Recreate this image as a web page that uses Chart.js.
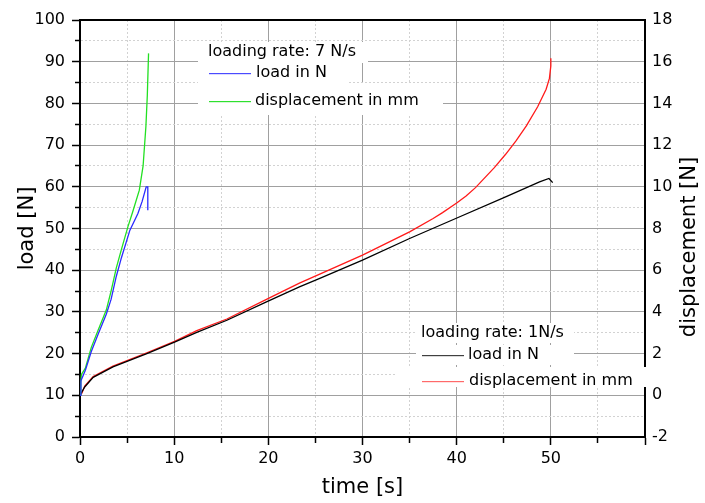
<!DOCTYPE html>
<html>
<head>
<meta charset="utf-8">
<script src="https://cdn.jsdelivr.net/npm/chart.js@4"></script>
<style>
  html, body { margin: 0; padding: 0; background: #fff; }
  #wrap { width: 705px; height: 503px; }
</style>
</head>
<body>
<div id="wrap"><canvas id="loadChart" width="705" height="503"></canvas></div>
<script>
// loading rate 7 N/s
const fastLoadTime = [0, 0.1, 0.57, 1.2, 1.9, 2.8, 3.3, 3.85, 4.4, 5.3, 6.15, 6.6, 7.03, 7.2, 7.2];
const fastLoad     = [10, 13.5, 16, 20.5, 24.5, 29.5, 33, 38.5, 43, 49.6, 53.6, 56.5, 60, 60, 54.4];
const fastDispTime = [0, 0.08, 0.15, 0.57, 1.2, 1.9, 2.8, 3.3, 3.85, 4.4, 5.1, 5.6, 6.3, 6.7, 7.0, 7.15, 7.28];
const fastDisp     = [0, 0.6, 1.0, 1.3, 2.3, 3.1, 4.1, 5.0, 6.1, 7.0, 8.1, 8.8, 9.84, 11.0, 12.9, 14.4, 16.4];

// loading rate 1 N/s
const slowLoadTime = [0, 0.5, 1.4, 3.5, 7.1, 10.1, 12.4, 15.6, 19.8, 23.3, 25.4, 30, 35, 39.9, 45.2, 48.8, 49.8, 50.2];
const slowLoad     = [10, 12, 14.3, 16.8, 20, 22.8, 25.1, 28, 32.4, 36, 38, 42.4, 47.6, 52.4, 57.6, 61.2, 62, 61];
const slowDispTime = [0, 0.2, 0.5, 1.4, 3.5, 7.1, 10.1, 12.4, 15.6, 19.8, 23.3, 25.4, 30, 35, 37.5, 38.5, 40, 41,
                      42, 44, 45.2, 46.3, 47.4, 48.6, 49.5, 49.85, 50.0, 50.0];
const slowDisp     = [0, 0.1, 0.44, 0.9, 1.4, 2.04, 2.6, 3.1, 3.66, 4.6, 5.38, 5.8, 6.72, 7.84, 8.48, 8.76, 9.22, 9.56,
                      9.96, 10.92, 11.56, 12.2, 12.92, 13.84, 14.68, 15.2, 15.8, 16.16];

const toPoints = (xs, ys) => xs.map((x, i) => ({ x: x, y: ys[i] }));

Chart.defaults.font.family = "'DejaVu Sans', sans-serif";
Chart.defaults.font.size = 16;
Chart.defaults.color = '#000';

const isMajor = (ctx, step) => ctx.tick && Math.round(ctx.tick.value) % step === 0;

function gridColor(lo, hi) {
    return ctx => {
        if (!ctx.tick) return '#a0a0a0';
        const v = ctx.tick.value;
        if (v === lo || v === hi) return 'rgba(0,0,0,0)';
        return v % 10 === 0 ? '#a0a0a0' : '#d2d2d2';
    };
}

// top frame line, right title, legend boxes
const framePlugin = {
    id: 'frame',
    afterDraw(chart) {
        const { ctx, chartArea } = chart;
        ctx.save();
        ctx.fillStyle = '#000';
        ctx.fillRect(chartArea.left - 1, chartArea.top - 1, chartArea.right - chartArea.left + 2, 2);

        // right axis title, reads bottom to top
        ctx.save();
        ctx.translate(690, 247);
        ctx.rotate(-Math.PI / 2);
        ctx.font = "21px 'DejaVu Sans'";
        ctx.textAlign = 'center';
        ctx.textBaseline = 'middle';
        ctx.fillText('displacement [N]', 0, 0);
        ctx.restore();

        ctx.font = "16px 'DejaVu Sans'";
        ctx.textBaseline = 'middle';
        ctx.textAlign = 'left';
        const rows = [
            { box: [198, 42, 170, 21], text: 'loading rate: 7 N/s', tx: 208, ty: 52 },
            { box: [198, 63, 150, 20], text: 'load in N', tx: 256, ty: 73, line: '#4a4aff', lx: 209 },
            { box: [198, 83, 245, 32], text: 'displacement in mm', tx: 255, ty: 101, line: '#2ee02e', lx: 209 },
            { box: [416, 323, 158, 20], text: 'loading rate: 1N/s', tx: 421, ty: 333 },
            { box: [416, 345, 158, 20], text: 'load in N', tx: 468, ty: 355, line: '#404040', lx: 422 },
            { box: [395, 367, 255, 20], text: 'displacement in mm', tx: 469, ty: 381, line: '#ff6a6a', lx: 422 }
        ];
        rows.forEach(r => {
            ctx.fillStyle = '#fff';
            ctx.fillRect(r.box[0], r.box[1], r.box[2], r.box[3]);
        });
        rows.forEach(r => {
            ctx.fillStyle = '#000';
            ctx.fillText(r.text, r.tx, r.ty);
            if (r.line) {
                ctx.fillStyle = r.line;
                ctx.fillRect(r.lx, r.ty, 42, 1.2);
            }
        });
        ctx.restore();
    }
};

const chartCtx = document.getElementById('loadChart').getContext('2d');
let loadChart = new Chart(chartCtx, {
    type: 'line',
    data: {
        datasets: [{
            label: 'load in N (7 N/s)',
            data: toPoints(fastLoadTime, fastLoad),
            borderColor: '#2a2aff',
            yAxisID: 'y'
        }, {
            label: 'displacement in mm (7 N/s)',
            data: toPoints(fastDispTime, fastDisp),
            borderColor: '#22e022',
            yAxisID: 'y1'
        }, {
            label: 'load in N (1 N/s)',
            data: toPoints(slowLoadTime, slowLoad),
            borderColor: '#000',
            yAxisID: 'y'
        }, {
            label: 'displacement in mm (1 N/s)',
            data: toPoints(slowDispTime, slowDisp),
            borderColor: '#ff1a1a',
            yAxisID: 'y1'
        }]
    },
    options: {
        responsive: false,
        animation: false,
        elements: {
            point: { radius: 0 },
            line: { borderWidth: 1.3, tension: 0, fill: false }
        },
        layout: { padding: { top: 20 } },
        plugins: {
            legend: { display: false },
            tooltip: { enabled: false }
        },
        scales: {
            x: {
                type: 'linear',
                min: 0,
                max: 60,
                afterFit: s => { s.height = 66; },
                ticks: {
                    stepSize: 5,
                    padding: 4,
                    maxRotation: 0,
                    autoSkip: false,
                    callback: v => (v % 10 === 0 && v < 60) ? v : ''
                },
                grid: {
                    color: gridColor(0, 60),
                    tickColor: '#000',
                    tickLength: 8,
                    tickWidth: 1.5,
                    tickBorderDash: ctx => isMajor(ctx, 10) ? [] : [5, 100]
                },
                border: { color: '#000', width: 2, dash: ctx => (ctx.tick && ctx.tick.value % 10 !== 0) ? [2, 2] : [] },
                title: {
                    display: true,
                    text: 'time [s]',
                    font: { size: 21 },
                    padding: { top: 0, bottom: 3 }
                }
            },
            y: {
                position: 'left',
                min: 0,
                max: 100,
                afterFit: s => { s.width = 80; },
                ticks: {
                    stepSize: 5,
                    padding: 7,
                    autoSkip: false,
                    callback: v => v % 10 === 0 ? v : ''
                },
                grid: {
                    color: gridColor(0, 100),
                    tickColor: '#000',
                    tickLength: 8,
                    tickWidth: 1.5,
                    tickBorderDash: ctx => isMajor(ctx, 10) ? [] : [0, 3, 5, 100]
                },
                border: { color: '#000', width: 2, dash: ctx => (ctx.tick && ctx.tick.value % 10 !== 0) ? [2, 2] : [] },
                title: {
                    display: true,
                    text: 'load [N]',
                    font: { size: 21 },
                    padding: { top: 15, bottom: 0 }
                }
            },
            y1: {
                position: 'right',
                min: -2,
                max: 18,
                afterFit: s => { s.width = 60; },
                ticks: { stepSize: 2, padding: 7 },
                grid: { drawOnChartArea: false, drawTicks: false },
                border: { color: '#000', width: 2 },
                title: { display: false }
            }
        }
    },
    plugins: [framePlugin]
});
</script>
</body>
</html>
